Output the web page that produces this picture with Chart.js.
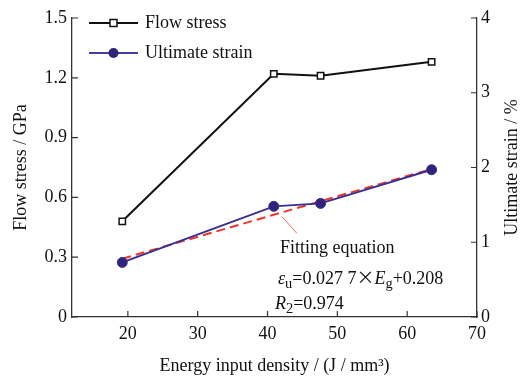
<!DOCTYPE html>
<html>
<head>
<meta charset="utf-8">
<script src="https://cdn.jsdelivr.net/npm/chart.js@4.4.1/dist/chart.umd.min.js"></script>
<style>
  body { margin: 0; background: #fff; }
  #wrap { position: relative; width: 524px; height: 379px; }
  .note { position: absolute; font: 18px "Liberation Serif", serif; line-height: 18px; color: #111; white-space: nowrap; }
  .note sub { font-size: 0.8em; vertical-align: -0.3em; line-height: 0; }
  .note .times { font-family: "Noto Sans CJK SC", sans-serif; }
</style>
</head>
<body>
<div id="wrap">
  <canvas id="chart"></canvas>
  <div class="note" style="left:280px;top:238px">Fitting equation</div>
  <div class="note" style="left:278px;top:267px"><i>ε</i><sub>u</sub>=0.027 7<span class="times">×</span><i>E</i><sub>g</sub>+0.208</div>
  <div class="note" style="left:275px;top:294px"><i>R</i><sub>2</sub>=0.974</div>
</div>
<script>
// データ
const energyDensity = [19.2, 40.9, 47.6, 63.5];
const flowStress = [0.48, 1.22, 1.21, 1.28];
const ultimateStrain = [0.73, 1.48, 1.52, 1.97];
// 近似直線（端点）と引き出し線
const fitEnergy = [19.2, 63.5];
const fitStrain = [0.78, 1.98];
const leaderEnergy = [42.1, 44.2];
const leaderStrain = [1.34, 1.12];
// 目盛り
const xTicks = [20, 30, 40, 50, 60, 70];
const stressTicks = [0, 0.3, 0.6, 0.9, 1.2, 1.5];
const strainTicks = [0, 1, 2, 3, 4];

const serif = 'Liberation Serif';
const axisColor = '#333';
const textColor = '#111';
const toPoints = (xs, ys) => xs.map((x, i) => ({x: x, y: ys[i]}));

// 内向きの目盛り線
const innerTicks = {
    id: 'innerTicks',
    afterDraw(chart) {
        const {ctx, chartArea: a, scales} = chart;
        ctx.save();
        ctx.strokeStyle = axisColor;
        ctx.lineWidth = 1.2;
        ctx.beginPath();
        scales.x.ticks.forEach(t => {
            const px = scales.x.getPixelForValue(t.value);
            ctx.moveTo(px, a.bottom);
            ctx.lineTo(px, a.bottom - 6);
        });
        scales.y.ticks.forEach(t => {
            const py = scales.y.getPixelForValue(t.value);
            ctx.moveTo(a.left, py);
            ctx.lineTo(a.left + 6, py);
        });
        scales.y1.ticks.forEach(t => {
            const py = scales.y1.getPixelForValue(t.value);
            ctx.moveTo(a.right, py);
            ctx.lineTo(a.right - 6, py);
        });
        ctx.stroke();
        ctx.restore();
    }
};

// 右軸タイトル（下から上へ読む向き）
const rightTitle = {
    id: 'rightTitle',
    afterDraw(chart) {
        const {ctx, chartArea: a} = chart;
        ctx.save();
        ctx.translate(512, (a.top + a.bottom) / 2);
        ctx.rotate(-Math.PI / 2);
        ctx.font = '18px "' + serif + '"';
        ctx.fillStyle = textColor;
        ctx.textAlign = 'center';
        ctx.textBaseline = 'middle';
        ctx.fillText('Ultimate strain / %', 0, 0);
        ctx.restore();
    }
};

// 凡例（グラフ内左上）
const innerLegend = {
    id: 'innerLegend',
    afterDraw(chart) {
        const {ctx, chartArea: a} = chart;
        const x0 = a.left + 17, x1 = a.left + 66, xm = (x0 + x1) / 2;
        const rows = [
            {y: a.top + 5, label: 'Flow stress', line: '#111', style: 'rect'},
            {y: a.top + 35, label: 'Ultimate strain', line: '#4a3c9c', style: 'circle'}
        ];
        ctx.save();
        rows.forEach(r => {
            ctx.strokeStyle = r.line;
            ctx.lineWidth = 2;
            ctx.beginPath();
            ctx.moveTo(x0, r.y);
            ctx.lineTo(x1, r.y);
            ctx.stroke();
            if (r.style === 'rect') {
                ctx.fillStyle = '#fff';
                ctx.strokeStyle = '#111';
                ctx.lineWidth = 1.5;
                ctx.fillRect(xm - 3.5, r.y - 3.5, 7, 7);
                ctx.strokeRect(xm - 3.5, r.y - 3.5, 7, 7);
            } else {
                ctx.fillStyle = '#2e2479';
                ctx.beginPath();
                ctx.arc(xm, r.y, 5, 0, Math.PI * 2);
                ctx.fill();
            }
            ctx.font = '18px "' + serif + '"';
            ctx.fillStyle = textColor;
            ctx.textBaseline = 'middle';
            ctx.fillText(r.label, x1 + 7, r.y);
        });
        ctx.restore();
    }
};

const ctx = document.getElementById('chart').getContext('2d');

const chart = new Chart(ctx, {
    type: 'line',
    data: {
        datasets: [
            {
                label: 'Flow stress',
                data: toPoints(energyDensity, flowStress),
                yAxisID: 'y',
                borderColor: '#111',
                borderWidth: 2,
                pointStyle: 'rect',
                pointRadius: 4.5,
                pointBackgroundColor: '#fff',
                pointBorderColor: '#111',
                pointBorderWidth: 1.5,
            },
            {
                label: 'Ultimate strain',
                data: toPoints(energyDensity, ultimateStrain),
                yAxisID: 'y1',
                borderColor: '#3a2e8e',
                borderWidth: 2,
                pointStyle: 'circle',
                pointRadius: 5,
                pointBackgroundColor: '#2e2479',
                pointBorderColor: '#3a2e8e',
                pointBorderWidth: 1,
            },
            {
                label: 'Fitting',
                data: toPoints(fitEnergy, fitStrain),
                yAxisID: 'y1',
                borderColor: '#f0332b',
                borderWidth: 2,
                borderDash: [9, 5],
                pointRadius: 0,
            },
            {
                label: 'Leader',
                data: toPoints(leaderEnergy, leaderStrain),
                yAxisID: 'y1',
                borderColor: '#f06a50',
                borderWidth: 1,
                pointRadius: 0,
            }
        ]
    },
    options: {
        responsive: true,
        maintainAspectRatio: false,
        animation: false,
        layout: { padding: { top: 18, left: 0, right: 0, bottom: 0 } },
        plugins: {
            legend: { display: false },
            tooltip: { enabled: false }
        },
        scales: {
            x: {
                type: 'linear',
                min: 12,
                max: 70,
                afterBuildTicks: s => { s.ticks = xTicks.map(v => ({value: v})); },
                afterFit: s => { s.height = 62; },
                grid: { drawOnChartArea: false, drawTicks: false },
                border: { color: axisColor, width: 1.3 },
                ticks: { padding: 6, color: textColor, font: { family: serif, size: 18 } },
                title: {
                    display: true,
                    text: 'Energy input density / (J / mm³)',
                    color: textColor,
                    font: { family: serif, size: 18 },
                    padding: { top: 0, bottom: 2 }
                }
            },
            y: {
                position: 'left',
                min: 0,
                max: 1.5,
                afterBuildTicks: s => { s.ticks = stressTicks.map(v => ({value: v})); },
                afterFit: s => { s.width = 72; },
                grid: { drawOnChartArea: false, drawTicks: false },
                border: { color: axisColor, width: 1.3 },
                ticks: {
                    padding: 5,
                    color: textColor,
                    font: { family: serif, size: 18 },
                    callback: v => v === 0 ? '0' : v.toFixed(1)
                },
                title: {
                    display: true,
                    text: 'Flow stress / GPa',
                    color: textColor,
                    font: { family: serif, size: 18 },
                    padding: { top: 10, bottom: 0 }
                }
            },
            y1: {
                position: 'right',
                min: 0,
                max: 4,
                afterBuildTicks: s => { s.ticks = strainTicks.map(v => ({value: v})); },
                afterFit: s => { s.width = 47; },
                grid: { drawOnChartArea: false, drawTicks: false },
                border: { color: axisColor, width: 1.3 },
                ticks: { padding: 4, color: textColor, font: { family: serif, size: 18 } }
            }
        }
    },
    plugins: [innerTicks, rightTitle, innerLegend]
});
</script>
</body>
</html>
